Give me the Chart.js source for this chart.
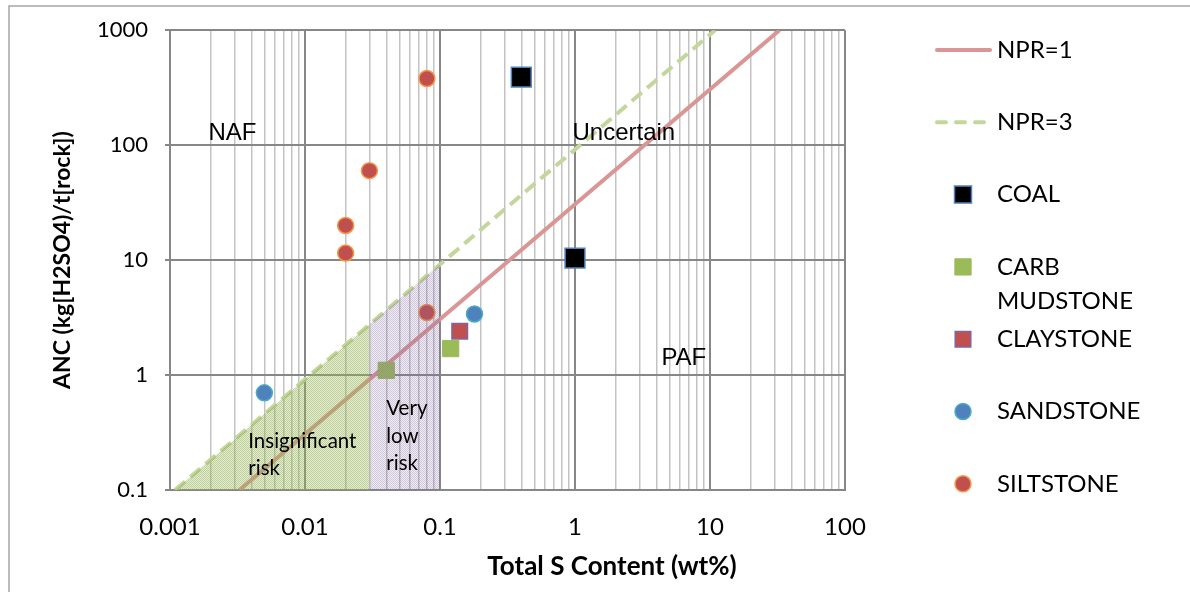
<!DOCTYPE html>
<html>
<head>
<meta charset="utf-8">
<script src="https://cdn.jsdelivr.net/npm/chart.js"></script>
<style>
  html, body { margin: 0; padding: 0; background: #fff; }
  canvas { display: block; }
</style>
</head>
<body>
<canvas id="ancChart" width="1190" height="592"></canvas>
<script>
// axis tick labels (decades only)
const xTickLabels = ['0.001', '0.01', '0.1', '1', '10', '100'];
const yTickLabels = ['0.1', '1', '10', '100', '1000'];

// NPR lines, end points where they meet the plot edges
const npr1X = [0.00327, 32.7];
const npr1Y = [0.1, 1000];
const npr3X = [0.00109, 10.9];
const npr3Y = [0.1, 1000];

// shaded zones under the NPR=3 line
const insignificantX = [0.00109, 0.03];
const insignificantY = [0.1, 2.75];
const veryLowX = [0.03, 0.1];
const veryLowY = [2.75, 9.18];

// samples: total S (wt%) and ANC
const coalS = [0.4, 1.0];
const coalANC = [390, 10.4];
const carbS = [0.04, 0.12];
const carbANC = [1.1, 1.7];
const claystoneS = [0.14];
const claystoneANC = [2.4];
const sandstoneS = [0.005, 0.18];
const sandstoneANC = [0.7, 3.4];
const siltstoneS = [0.08, 0.03, 0.02, 0.02, 0.08];
const siltstoneANC = [380, 60, 20, 11.5, 3.5];

function pts(xs, ys) {
  return xs.map((x, i) => ({ x: x, y: ys[i] }));
}

function isDecade(v) {
  const l = Math.log10(v);
  return Math.abs(l - Math.round(l)) < 1e-9;
}

// fine checker fill like the Excel pattern
function dotted(base, dot) {
  const c = document.createElement('canvas');
  c.width = 2; c.height = 2;
  const g = c.getContext('2d');
  g.fillStyle = base;
  g.fillRect(0, 0, 2, 2);
  g.fillStyle = dot;
  g.fillRect(0, 0, 1, 1);
  g.fillRect(1, 1, 1, 1);
  return g.createPattern(c, 'repeat');
}

// x grid: every 1..9 multiple inside each decade
const xDecades = xTickLabels.map(Number);
const xGridValues = [];
xDecades.forEach((d, i) => {
  if (i === xDecades.length - 1) { xGridValues.push(d); return; }
  for (let m = 1; m <= 9; m++) xGridValues.push(+(d * m).toPrecision(6));
});

const MAJOR = '#878787';
const MINOR = '#c3c3c3';

const datasets = [
  {
    type: 'line', label: 'insignificant', data: pts(insignificantX, insignificantY),
    fill: 'start', backgroundColor: dotted('rgba(155,187,89,0.28)', 'rgba(140,170,80,0.42)'), borderWidth: 0,
    pointRadius: 0, order: 0
  },
  {
    type: 'line', label: 'very low', data: pts(veryLowX, veryLowY),
    fill: 'start', backgroundColor: dotted('rgba(128,100,162,0.13)', 'rgba(128,100,162,0.26)'), borderWidth: 0,
    pointRadius: 0, order: 0
  },
  {
    type: 'line', label: 'NPR=1', data: pts(npr1X, npr1Y), inLegend: true,
    borderColor: '#d99694', borderWidth: 4, pointRadius: 0, fill: false, order: 2
  },
  {
    type: 'line', label: 'NPR=3', data: pts(npr3X, npr3Y), inLegend: true,
    borderColor: '#c3d69b', borderWidth: 4, borderDash: [13, 7], pointRadius: 0, fill: false, order: 2
  },
  {
    label: 'COAL', data: pts(coalS, coalANC), inLegend: true,
    pointStyle: 'rect', pointRadius: 14, legendRadius: 12,
    backgroundColor: '#000000', borderColor: '#4f81bd', borderWidth: 1.5, order: 1
  },
  {
    label: 'CARB MUDSTONE', legendLines: ['CARB', 'MUDSTONE'], data: pts(carbS, carbANC), inLegend: true,
    pointStyle: 'rect', pointRadius: 11.5, legendRadius: 11.5,
    backgroundColor: '#9bbb59', borderColor: '#9bbb59', borderWidth: 1, order: 1
  },
  {
    label: 'CLAYSTONE', data: pts(claystoneS, claystoneANC), inLegend: true,
    pointStyle: 'rect', pointRadius: 11, legendRadius: 11,
    backgroundColor: '#c0504d', borderColor: '#8064a2', borderWidth: 1.5, order: 1
  },
  {
    label: 'SANDSTONE', data: pts(sandstoneS, sandstoneANC), inLegend: true,
    pointStyle: 'circle', pointRadius: 8, legendRadius: 8,
    backgroundColor: '#4f81bd', borderColor: '#4bacc6', borderWidth: 1.5, order: 1
  },
  {
    label: 'SILTSTONE', data: pts(siltstoneS, siltstoneANC), inLegend: true,
    pointStyle: 'circle', pointRadius: 8, legendRadius: 8,
    backgroundColor: '#c0504d', borderColor: '#f79646', borderWidth: 1.5, order: 1
  }
];

// text placed in data coordinates
const notes = [
  { lines: ['NAF'], x: 0.0029, y: 127, align: 'center', font: '24px "Liberation Sans"' },
  { lines: ['Uncertain'], x: 2.3, y: 127, align: 'center', font: '24px "Liberation Sans"' },
  { lines: ['PAF'], x: 6.4, y: 1.41, align: 'center', font: '24px "Liberation Sans"' },
  { lines: ['Insignificant', 'risk'], x: 0.0038, y: 0.265, align: 'left', font: '20.5px Lato' },
  { lines: ['Very', 'low', 'risk'], x: 0.04, y: 0.51, align: 'left', font: '20.5px Lato' }
];

const decorPlugin = {
  id: 'decor',
  beforeDraw(chart) {
    const ctx = chart.ctx;
    ctx.save();
    ctx.fillStyle = '#fff';
    ctx.fillRect(0, 0, chart.width, chart.height);
    ctx.strokeStyle = '#a6a6a6';
    ctx.lineWidth = 1.5;
    ctx.beginPath();
    ctx.moveTo(9, chart.height);
    ctx.lineTo(9, 6);
    ctx.lineTo(chart.width, 6);
    ctx.stroke();
    ctx.restore();
  },
  afterDraw(chart) {
    const ctx = chart.ctx;
    const xs = chart.scales.x, ys = chart.scales.y;
    ctx.save();
    ctx.fillStyle = '#000';
    ctx.textBaseline = 'middle';
    notes.forEach(n => {
      ctx.font = n.font;
      ctx.textAlign = n.align;
      const px = xs.getPixelForValue(n.x), py = ys.getPixelForValue(n.y);
      n.lines.forEach((t, k) => ctx.fillText(t, px, py + k * 27.5));
    });

    // x axis title, Excel-style off-centre
    ctx.font = 'bold 26px Lato';
    ctx.textAlign = 'center';
    ctx.fillText('Total S Content (wt%)', 612, 567);

    // legend on the right
    const items = chart.data.datasets.filter(d => d.inLegend);
    items.forEach((ds, i) => {
      const y = 50 + i * 72.3;
      if (ds.type === 'line') {
        ctx.strokeStyle = ds.borderColor;
        ctx.lineWidth = ds.borderWidth;
        ctx.lineCap = 'round';
        ctx.setLineDash(ds.borderDash ? [9, 10] : []);
        ctx.beginPath();
        ctx.moveTo(937, y);
        ctx.lineTo(990, y);
        ctx.stroke();
        ctx.setLineDash([]);
        ctx.lineCap = 'butt';
      } else {
        ctx.fillStyle = ds.backgroundColor;
        ctx.strokeStyle = ds.borderColor;
        ctx.lineWidth = ds.borderWidth;
        Chart.helpers.drawPoint(ctx, {
          pointStyle: ds.pointStyle, radius: ds.legendRadius,
          borderWidth: ds.borderWidth, rotation: 0
        }, 963, y);
      }
      ctx.fillStyle = '#000';
      ctx.font = '24px Lato';
      ctx.textAlign = 'left';
      (ds.legendLines || [ds.label]).forEach((t, k) => ctx.fillText(t, 997, y + k * 34));
    });
    ctx.restore();
  }
};

new Chart('ancChart', {
  type: 'scatter',
  data: { datasets: datasets },
  plugins: [decorPlugin],
  options: {
    responsive: false,
    animation: false,
    events: [],
    layout: { padding: { left: 30, top: 28, right: 345, bottom: 0 } },
    plugins: { legend: { display: false }, tooltip: { enabled: false } },
    scales: {
      x: {
        type: 'logarithmic',
        min: 0.001, max: 100,
        afterBuildTicks: s => { s.ticks = xGridValues.map(v => ({ value: v })); },
        afterFit: s => { s.height = 102; },
        ticks: {
          autoSkip: false, maxRotation: 0, padding: 23,
          color: '#000', font: { family: 'Lato', size: 24 },
          callback: v => {
            const i = xDecades.findIndex(d => Math.abs(d - v) < d * 1e-6);
            return i >= 0 ? xTickLabels[i] : '';
          }
        },
        grid: {
          drawTicks: false,
          color: c => (c.tick && isDecade(c.tick.value)) ? MAJOR : MINOR,
          lineWidth: c => (c.tick && isDecade(c.tick.value)) ? 2 : 1.5
        },
        border: { color: MAJOR, width: 2 }
      },
      y: {
        type: 'logarithmic',
        min: 0.1, max: 1000,
        afterBuildTicks: s => { s.ticks = yTickLabels.map(t => ({ value: Number(t) })); },
        afterFit: s => { s.width = 140; },
        ticks: {
          padding: 17, color: '#000', font: { family: 'Lato', size: 22 },
          callback: v => {
            const i = yTickLabels.findIndex(t => Math.abs(Number(t) - v) < v * 1e-6);
            return i >= 0 ? yTickLabels[i] : '';
          }
        },
        grid: { color: MAJOR, lineWidth: 2, tickLength: 5 },
        border: { color: MAJOR, width: 2 },
        title: {
          display: true, text: 'ANC (kg[H2SO4)/t[rock])', color: '#000',
          font: { family: 'Lato', size: 23, weight: 'bold' },
          padding: { top: 19, bottom: 0 }
        }
      }
    }
  }
});
</script>
</body>
</html>
